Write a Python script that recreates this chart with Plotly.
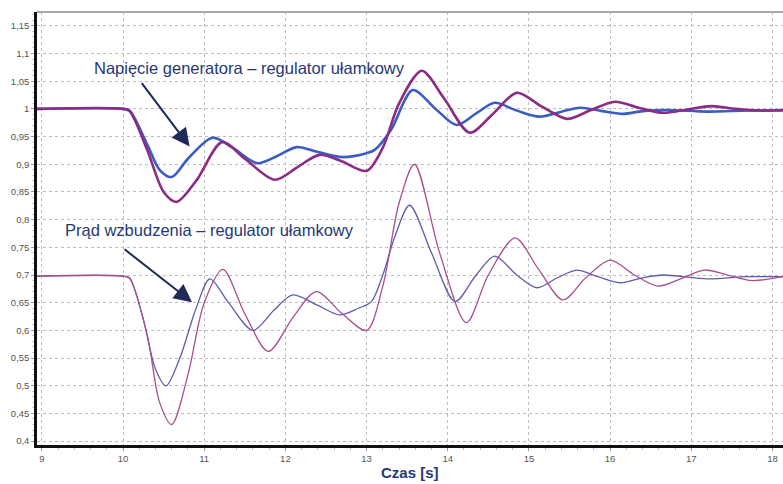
import plotly.graph_objects as go

# Time samples [s] and responses, read at the turning points of each curve
t_u_frac = [8.94, 10.0, 10.08, 10.3, 10.45, 10.6, 10.8, 11.1, 11.35, 11.65, 11.9, 12.14, 12.4,
            12.7, 13.0, 13.1, 13.3, 13.57, 13.85, 14.11, 14.35, 14.58, 14.85, 15.13, 15.4,
            15.63, 15.9, 16.15, 16.4, 16.7, 17.2, 17.7, 18.13]
u_frac = [1.0, 1.0, 0.997, 0.935, 0.89, 0.877, 0.91, 0.948, 0.93, 0.902, 0.915, 0.931, 0.922,
          0.913, 0.92, 0.926, 0.962, 1.034, 1.0, 0.971, 0.992, 1.011, 0.997, 0.986, 0.995,
          1.002, 0.996, 0.991, 0.996, 0.998, 0.995, 0.997, 0.997]

t_u_int = [8.94, 10.0, 10.08, 10.3, 10.5, 10.66, 10.9, 11.22, 11.5, 11.87, 12.15, 12.42, 12.7,
           13.0, 13.2, 13.4, 13.68, 13.95, 14.27, 14.55, 14.85, 15.15, 15.47, 15.75, 16.06,
           16.35, 16.65, 16.95, 17.25, 17.55, 17.85, 18.13]
u_int = [1.0, 1.0, 0.996, 0.925, 0.85, 0.832, 0.87, 0.94, 0.91, 0.872, 0.895, 0.917, 0.905,
         0.888, 0.93, 1.01, 1.069, 1.02, 0.957, 0.99, 1.029, 1.005, 0.982, 0.997, 1.013,
         1.002, 0.993, 0.999, 1.005, 1.0, 0.997, 0.998]

t_i_frac = [8.94, 10.0, 10.08, 10.25, 10.4, 10.53, 10.7, 10.9, 11.07, 11.3, 11.6, 11.85, 12.09,
            12.4, 12.67, 12.9, 13.06, 13.2, 13.35, 13.53, 13.8, 14.09, 14.35, 14.58, 14.85,
            15.1, 15.35, 15.59, 15.85, 16.12, 16.4, 16.65, 17.2, 17.7, 18.13]
i_frac = [0.698, 0.698, 0.695, 0.62, 0.53, 0.50, 0.55, 0.64, 0.693, 0.65, 0.60, 0.635, 0.664,
          0.645, 0.628, 0.64, 0.652, 0.70, 0.77, 0.826, 0.74, 0.652, 0.70, 0.734, 0.70,
          0.677, 0.695, 0.709, 0.697, 0.686, 0.695, 0.70, 0.693, 0.697, 0.697]

t_i_int = [8.94, 10.0, 10.08, 10.3, 10.45, 10.6, 10.8, 11.0, 11.23, 11.5, 11.79, 12.1, 12.38,
           12.7, 13.0, 13.2, 13.4, 13.59, 13.9, 14.23, 14.5, 14.83, 15.12, 15.42, 15.7, 16.0,
           16.3, 16.59, 16.9, 17.16, 17.45, 17.75, 18.13]
i_int = [0.698, 0.698, 0.694, 0.59, 0.47, 0.43, 0.52, 0.65, 0.71, 0.63, 0.562, 0.625, 0.67,
         0.63, 0.60, 0.68, 0.83, 0.90, 0.74, 0.614, 0.70, 0.767, 0.71, 0.655, 0.695, 0.727,
         0.70, 0.68, 0.695, 0.709, 0.70, 0.69, 0.697]

y_ticks = [0.4, 0.45, 0.5, 0.55, 0.6, 0.65, 0.7, 0.75, 0.8, 0.85, 0.9, 0.95, 1.0, 1.05, 1.1, 1.15]
y_tick_text = ["0,4", "0,45", "0,5", "0,55", "0,6", "0,65", "0,7", "0,75", "0,8", "0,85",
               "0,9", "0,95", "1", "1,05", "1,1", "1,15"]
x_ticks = [9, 10, 11, 12, 13, 14, 15, 16, 17, 18]

fig = go.Figure()

def add_curve(x, y, color, width):
    fig.add_trace(go.Scatter(x=x, y=y, mode="lines",
                             line=dict(color=color, width=width, shape="spline", smoothing=0.85),
                             showlegend=False, hoverinfo="skip"))

add_curve(t_i_frac, i_frac, "#5d5cb4", 1.3)
add_curve(t_i_int, i_int, "#a8508c", 1.3)
add_curve(t_u_frac, u_frac, "#3a5cc4", 2.6)
add_curve(t_u_int, u_int, "#8c2c84", 2.6)

navy = "#263874"
label_font = dict(family="Liberation Sans, Arial", size=16.5, color=navy)
# Labels with arrows pointing at the fractional-order curves
fig.add_annotation(x=9.616, y=1.074, text="Napięcie generatora – regulator ułamkowy",
                   showarrow=False, xanchor="left", yanchor="middle", font=label_font)
fig.add_annotation(x=10.82, y=0.932, ax=-49, ay=-65, text="", showarrow=True,
                   arrowhead=2, arrowsize=1.8, arrowwidth=2, arrowcolor="#1e2a58")
fig.add_annotation(x=9.259, y=0.781, text="Prąd wzbudzenia – regulator ułamkowy",
                   showarrow=False, xanchor="left", yanchor="middle", font=label_font)
fig.add_annotation(x=10.85, y=0.651, ax=-69, ay=-54, text="", showarrow=True,
                   arrowhead=2, arrowsize=1.8, arrowwidth=2, arrowcolor="#1e2a58")

# Axis title
fig.add_annotation(x=0.5, y=-0.064, xref="paper", yref="paper", text="<b>Czas [s]</b>",
                   showarrow=False, xanchor="center", yanchor="middle",
                   font=dict(family="Liberation Sans, Arial", size=15, color=navy))

# Thin gray frame line along the top
fig.add_shape(type="line", xref="paper", yref="paper", x0=0, x1=1, y0=1, y1=1,
              line=dict(color="#a8a8a8", width=2))

tick_font = dict(family="Liberation Sans, Arial", size=9.5, color="#555555")
fig.update_xaxes(range=[8.94, 18.13], tickvals=x_ticks, ticktext=[str(v) for v in x_ticks],
                 showgrid=True, gridcolor="#bdbdbd", griddash="dot", gridwidth=1,
                 showline=True, linecolor="#111111", linewidth=2.5,
                 ticks="outside", ticklen=3, tickcolor="#999999",
                 minor=dict(dtick=0.2, ticks="outside", ticklen=2, tickcolor="#bbbbbb", showgrid=False),
                 tickfont=tick_font, zeroline=False, fixedrange=True)
fig.update_yaxes(range=[0.393, 1.175], tickvals=y_ticks, ticktext=y_tick_text,
                 showgrid=True, gridcolor="#bdbdbd", griddash="dot", gridwidth=1,
                 showline=True, linecolor="#111111", linewidth=2.5,
                 ticks="outside", ticklen=3, tickcolor="#999999",
                 minor=dict(dtick=0.01, ticks="outside", ticklen=2, tickcolor="#cccccc", showgrid=False),
                 tickfont=tick_font, zeroline=False, fixedrange=True)

fig.update_layout(width=783, height=484, margin=dict(l=37, r=0, t=12, b=39),
                  plot_bgcolor="white", paper_bgcolor="white")

fig.write_html("out.html", config={"displayModeBar": False})
